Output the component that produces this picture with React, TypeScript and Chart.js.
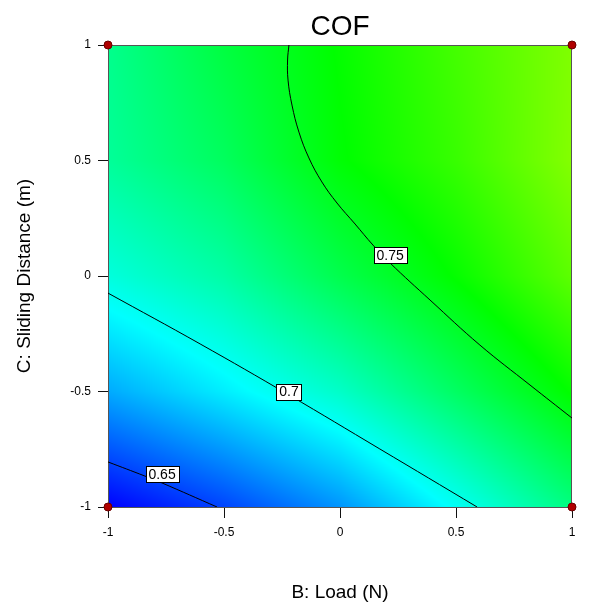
import React, { useEffect, useRef } from "react";
import { Chart, registerables } from "chart.js";

Chart.register(...registerables);

const FONT = "'Liberation Sans', Arial, Helvetica, sans-serif";

const TITLE = "COF";
const X_TITLE = "B: Load (N)";
const Y_TITLE = "C: Sliding Distance (m)";
const AXIS_MIN = -1;
const AXIS_MAX = 1;
const TICK_STEP = 0.5;

const GRID_B = [-1, -0.5, 0, 0.5, 1];
const GRID_C = [-1, -0.5, 0, 0.5, 1];
// rows: C = -1 .. 1, columns: B = -1 .. 1
const COF_GRID = [
  [0.635, 0.651, 0.670, 0.697, 0.725],
  [0.675, 0.691, 0.708, 0.732, 0.756],
  [0.703, 0.716, 0.737, 0.756, 0.777],
  [0.719, 0.733, 0.754, 0.768, 0.786],
  [0.722, 0.740, 0.756, 0.771, 0.785],
];

// colour scale: value -> colour
const SCALE_VALUES = [0.635, 0.695, 0.755, 0.815, 0.875];
const SCALE_COLORS = [
  [0, 0, 255],
  [0, 255, 255],
  [0, 255, 0],
  [255, 255, 0],
  [255, 0, 0],
];

// contour lines
const CONTOUR_065 = [
  { x: -1, y: -0.805 },
  { x: -0.841, y: -0.866 },
  { x: -0.767, y: -0.896 },
  { x: -0.53, y: -1 },
];
const CONTOUR_070 = [
  { x: -1, y: -0.074 },
  { x: -0.603, y: -0.294 },
  { x: -0.22, y: -0.515 },
  { x: 0.172, y: -0.749 },
  { x: 0.591, y: -1 },
];
const CONTOUR_075 = [
  { x: -0.22, y: 1 },
  { x: -0.226, y: 0.935 },
  { x: -0.224, y: 0.848 },
  { x: -0.207, y: 0.74 },
  { x: -0.177, y: 0.623 },
  { x: -0.134, y: 0.511 },
  { x: -0.078, y: 0.407 },
  { x: -0.013, y: 0.316 },
  { x: 0.065, y: 0.225 },
  { x: 0.142, y: 0.134 },
  { x: 0.216, y: 0.056 },
  { x: 0.388, y: -0.104 },
  { x: 0.603, y: -0.299 },
  { x: 0.819, y: -0.472 },
  { x: 1, y: -0.615 },
];
const CONTOUR_LABELS = [
  { text: "0.65", x: -0.767, y: -0.859 },
  { text: "0.7", x: -0.22, y: -0.5 },
  { text: "0.75", x: 0.216, y: 0.091 },
];

const DESIGN_POINTS = [
  { x: -1, y: -1 },
  { x: -1, y: 1 },
  { x: 1, y: -1 },
  { x: 1, y: 1 },
];

function findCell(arr: number[], v: number): [number, number] {
  if (v <= arr[0]) return [0, 0];
  for (let i = 0; i < arr.length - 1; i++) {
    if (v <= arr[i + 1]) return [i, (v - arr[i]) / (arr[i + 1] - arr[i])];
  }
  return [arr.length - 2, 1];
}

function surfaceValue(b: number, c: number): number {
  const [i, tx] = findCell(GRID_B, b);
  const [j, ty] = findCell(GRID_C, c);
  const v00 = COF_GRID[j][i];
  const v10 = COF_GRID[j][i + 1];
  const v01 = COF_GRID[j + 1][i];
  const v11 = COF_GRID[j + 1][i + 1];
  return (
    v00 * (1 - tx) * (1 - ty) +
    v10 * tx * (1 - ty) +
    v01 * (1 - tx) * ty +
    v11 * tx * ty
  );
}

function colorFor(v: number): number[] {
  if (v <= SCALE_VALUES[0]) return SCALE_COLORS[0];
  for (let k = 0; k < SCALE_VALUES.length - 1; k++) {
    if (v <= SCALE_VALUES[k + 1]) {
      const t = (v - SCALE_VALUES[k]) / (SCALE_VALUES[k + 1] - SCALE_VALUES[k]);
      const a = SCALE_COLORS[k];
      const b = SCALE_COLORS[k + 1];
      return [a[0] + (b[0] - a[0]) * t, a[1] + (b[1] - a[1]) * t, a[2] + (b[2] - a[2]) * t];
    }
  }
  return SCALE_COLORS[SCALE_COLORS.length - 1];
}

const surfacePlugin = {
  id: "surface",
  beforeDatasetsDraw(chart: any) {
    const { ctx, chartArea, scales } = chart;
    const left = Math.round(chartArea.left);
    const top = Math.round(chartArea.top);
    const w = Math.round(chartArea.right) - left;
    const h = Math.round(chartArea.bottom) - top;
    const off = document.createElement("canvas");
    off.width = w;
    off.height = h;
    const octx = off.getContext("2d")!;
    const img = octx.createImageData(w, h);
    for (let j = 0; j < h; j++) {
      const c = scales.y.getValueForPixel(top + j + 0.5);
      for (let i = 0; i < w; i++) {
        const b = scales.x.getValueForPixel(left + i + 0.5);
        const col = colorFor(surfaceValue(b, c));
        const p = (j * w + i) * 4;
        img.data[p] = col[0];
        img.data[p + 1] = col[1];
        img.data[p + 2] = col[2];
        img.data[p + 3] = 255;
      }
    }
    octx.putImageData(img, 0, 0);
    ctx.save();
    ctx.drawImage(off, left, top);
    ctx.strokeStyle = "#555";
    ctx.lineWidth = 1;
    ctx.strokeRect(left + 0.5, top + 0.5, w - 1, h);
    ctx.restore();
  },
  afterDatasetsDraw(chart: any) {
    const { ctx, scales } = chart;
    ctx.save();
    ctx.font = `14px ${FONT}`;
    ctx.textAlign = "center";
    ctx.textBaseline = "middle";
    for (const lab of CONTOUR_LABELS) {
      const px = scales.x.getPixelForValue(lab.x);
      const py = scales.y.getPixelForValue(lab.y);
      const tw = ctx.measureText(lab.text).width;
      const bw = Math.round(tw + 6);
      const bh = 16;
      const bx = Math.round(px - bw / 2) + 0.5;
      const by = Math.round(py - bh / 2) + 0.5;
      ctx.fillStyle = "#fff";
      ctx.fillRect(bx, by, bw, bh);
      ctx.strokeStyle = "#000";
      ctx.lineWidth = 1;
      ctx.strokeRect(bx, by, bw, bh);
      ctx.fillStyle = "#000";
      ctx.fillText(lab.text, px, py + 1);
    }
    ctx.restore();
  },
  afterDraw(chart: any) {
    const { ctx, chartArea } = chart;
    ctx.save();
    ctx.font = `28px ${FONT}`;
    ctx.fillStyle = "#000";
    ctx.textAlign = "center";
    ctx.textBaseline = "alphabetic";
    ctx.fillText(TITLE, (chartArea.left + chartArea.right) / 2, 35);
    ctx.restore();
  },
};

const tickLabel = (v: any) => `${Number(v)}`;

export default function App() {
  const ref = useRef<HTMLCanvasElement | null>(null);

  useEffect(() => {
    if (!ref.current) return;
    const lineStyle = {
      showLine: true,
      pointRadius: 0,
      borderColor: "#000",
      borderWidth: 1,
      tension: 0.4,
      fill: false,
      clip: 0,
    };
    const chart = new Chart(ref.current, {
      type: "scatter",
      data: {
        datasets: [
          {
            label: "Design points",
            data: DESIGN_POINTS,
            pointRadius: 4,
            pointBackgroundColor: "#b00000",
            pointBorderColor: "#6a0000",
            pointBorderWidth: 1,
            showLine: false,
            clip: false,
          } as any,
          { label: "0.65", data: CONTOUR_065, ...lineStyle } as any,
          { label: "0.7", data: CONTOUR_070, ...lineStyle } as any,
          { label: "0.75", data: CONTOUR_075, ...lineStyle } as any,
        ],
      },
      options: {
        animation: false,
        responsive: false,
        events: [],
        layout: { padding: { top: 45, right: 20, left: 0, bottom: 0 } },
        plugins: {
          legend: { display: false },
          tooltip: { enabled: false },
          title: { display: false },
        },
        scales: {
          x: {
            type: "linear",
            min: AXIS_MIN,
            max: AXIS_MAX,
            ticks: {
              stepSize: TICK_STEP,
              color: "#000",
              font: { size: 12, family: FONT },
              padding: 7,
              callback: tickLabel,
            },
            grid: { drawOnChartArea: false, tickLength: 11, color: "#111" },
            border: { display: false },
            title: {
              display: true,
              text: X_TITLE,
              color: "#000",
              font: { size: 19, family: FONT },
              padding: { top: 0, bottom: 4 },
            },
            afterFit: (s: any) => {
              s.height = 101;
            },
          },
          y: {
            type: "linear",
            min: AXIS_MIN,
            max: AXIS_MAX,
            ticks: {
              stepSize: TICK_STEP,
              color: "#000",
              font: { size: 12, family: FONT },
              padding: 7,
              callback: tickLabel,
            },
            grid: { drawOnChartArea: false, tickLength: 10, color: "#111" },
            border: { display: false },
            title: {
              display: true,
              text: Y_TITLE,
              color: "#000",
              font: { size: 19, family: FONT },
              padding: { top: 13, bottom: 0 },
            },
            afterFit: (s: any) => {
              s.width = 108;
            },
          },
        },
      } as any,
      plugins: [surfacePlugin],
    });
    return () => chart.destroy();
  }, []);

  return (
    <div style={{ position: "fixed", left: 0, top: 0, width: 592, height: 608, background: "#fff" }}>
      <canvas ref={ref} width={592} height={608} />
    </div>
  );
}
